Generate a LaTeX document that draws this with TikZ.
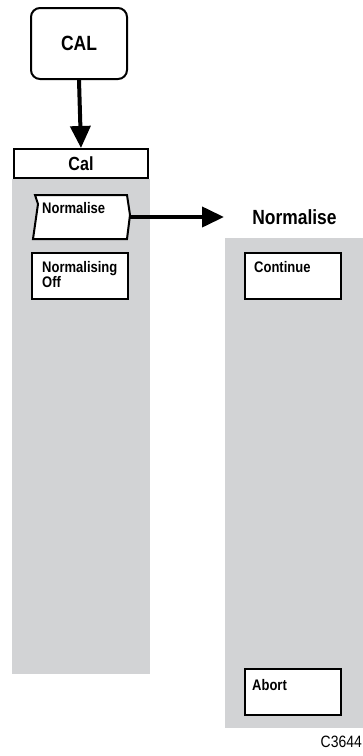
\documentclass[tikz,border=0pt]{standalone}
\usepackage{fontspec}
\setmainfont{Liberation Sans}
\newfontfamily\nar[FakeStretch=0.85]{Liberation Sans}
\usetikzlibrary{arrows.meta}
\definecolor{panel}{RGB}{210,211,213}
\begin{document}
\begin{tikzpicture}[x=1pt,y=-1pt,
  box/.style={draw,line width=2pt,fill=white,inner sep=0pt,minimum width=96pt,minimum height=46pt},
  lbl/.style={anchor=base west,inner sep=0pt,font=\nar\bfseries\fontsize{15.3}{15}\selectfont,align=left},
  bigarrow/.style={line width=4pt,-{Triangle[width=20pt,length=22pt]}}]
\useasboundingbox (0,0) rectangle (363,756);
% panels
\fill[panel] (12,179) rectangle (150,674);
\fill[panel] (225,238) rectangle (363,728);
% CAL key
\node[draw,line width=2pt,rounded corners=9pt,minimum width=96pt,minimum height=71pt,
      font=\nar\bfseries\fontsize{20.6}{20}\selectfont] (cal) at (79,43.5) {CAL};
% Cal header
\node[draw,line width=2pt,fill=white,minimum width=134pt,minimum height=29pt,inner sep=0pt,
      font=\nar\bfseries\fontsize{19}{19}\selectfont] (calhdr) at (81,163.5) {Cal};
\draw[bigarrow] (cal.south) -- (calhdr.north);
% Normalise tag
\fill[white] (35,195) -- (38,204) -- (33,239) -- (127,239) -- (130,215) -- (127,195) -- cycle;
\draw[line width=2pt,line join=miter] (35,195) -- (38,204) -- (33,239) -- (127,239) -- (130,215) -- (127,195) -- cycle;
\node[inner sep=0pt,minimum width=98pt,minimum height=44pt] (normtag) at (81,217) {};
\node[lbl] (normtxt) at (42,213) {Normalise};
% Normalising Off
\node[box] (noff) at (80,276) {};
\node[lbl] (nofftxt) at (42,287) {Normalising\\Off};
% arrow to Normalise menu
\coordinate (arrend) at (224,217);
\draw[bigarrow] (normtag.east) -- (arrend);
\node[anchor=base,inner sep=0pt,font=\nar\bfseries\fontsize{20.5}{20}\selectfont] (ntitle) at (294.5,224) {Normalise};
% Continue
\node[box] (cont) at (292.5,276) {};
\node[lbl] (conttxt) at (254,272) {Continue};
% Abort
\node[box] (abort) at (292.5,692) {};
\node[lbl] (aborttxt) at (252,690) {Abort};
% code
\node[anchor=base east,inner sep=0pt,font=\nar\fontsize{16.4}{16}\selectfont] (code) at (362,747) {C3644};
\end{tikzpicture}
\end{document}
